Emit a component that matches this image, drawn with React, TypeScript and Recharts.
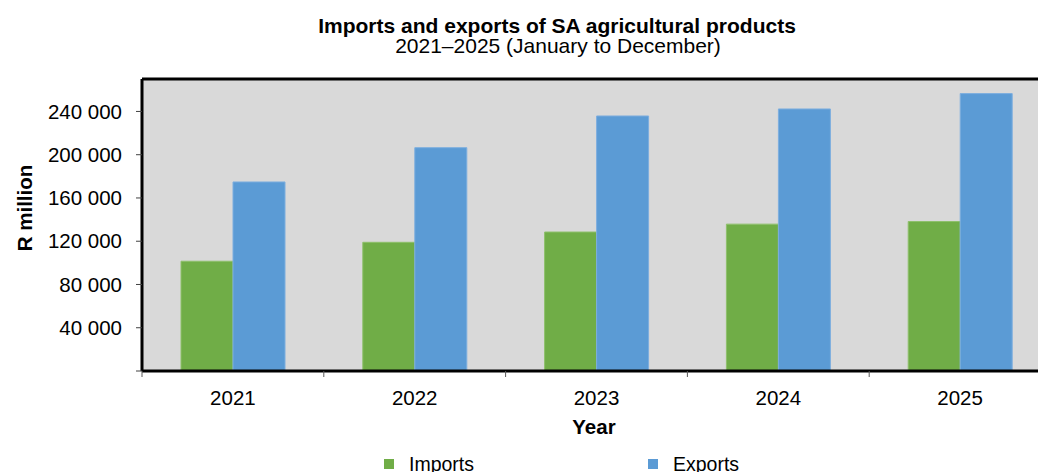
import { BarChart, Bar, XAxis, YAxis, CartesianGrid, Legend, ReferenceLine, Label } from "recharts";

const years = ["2021", "2022", "2023", "2024", "2025"];
const seriesNames = ["Imports", "Exports"];
const imports = [101500, 119000, 128500, 135800, 138200];
const exports = [174800, 206500, 235800, 242300, 256500];
const yTicks = [0, 40000, 80000, 120000, 160000, 200000, 240000];
const boundaryTicks = [0, 1, 2, 3, 4, 5];

const data = years.map((year, i) => ({ year, idx: i + 0.5, imports: imports[i], exports: exports[i] }));

const FONT = "'Liberation Sans', Arial, sans-serif";

const fmt = (v: number) => (v === 0 ? "" : String(v).replace(/\B(?=(\d{3})+(?!\d))/g, " "));

const LegendContent = ({ payload }: any) => {
  const items = [...(payload || [])].sort((a: any, b: any) => seriesNames.indexOf(a.value) - seriesNames.indexOf(b.value));
  return (
    <div style={{ position: "relative", height: 20, fontFamily: FONT, fontSize: 19.5, lineHeight: "20px", color: "#000" }}>
      {items.map((entry: any, i: number) => (
        <div key={entry.value} style={{ position: "absolute", left: 384 + i * 264, top: 0, display: "flex", alignItems: "center", whiteSpace: "nowrap" }}>
          <span style={{ display: "inline-block", width: 10, height: 10, background: entry.color, marginRight: 15 }} />
          <span>{entry.value}</span>
        </div>
      ))}
    </div>
  );
};

export default function App() {
  return (
    <div style={{ position: "fixed", left: 0, top: 0, width: 1038, height: 472, overflow: "hidden", background: "#fff" }}>
      <BarChart
        width={1060}
        height={472}
        data={data}
        margin={{ top: 79, right: 9, bottom: 0, left: 0 }}
        barCategoryGap={39}
        barGap={0}
        style={{ fontFamily: FONT }}
      >
        <CartesianGrid xAxisId="cat" fill="#d9d9d9" horizontal={false} vertical={false} stroke="none" />
        <XAxis
          type="number"
          dataKey="idx"
          domain={[0, 5]}
          ticks={boundaryTicks}
          tickFormatter={() => ""}
          axisLine={{ stroke: "#000", strokeWidth: 3 }}
          tickSize={6}
          tickLine={{ stroke: "#595959", strokeWidth: 1 }}
          height={1}
          allowDataOverflow
        />
        <XAxis
          xAxisId="cat"
          dataKey="year"
          axisLine={false}
          tickLine={false}
          tickSize={0}
          tickMargin={18}
          tick={{ fill: "#000", fontSize: 20.5, fontFamily: FONT }}
          height={100}
        />
        <YAxis
          domain={[0, 270000]}
          ticks={yTicks}
          tickFormatter={fmt}
          width={142}
          axisLine={{ stroke: "#000", strokeWidth: 3 }}
          tickLine={{ stroke: "#404040", strokeWidth: 1 }}
          tickSize={6}
          tickMargin={14}
          tick={{ fill: "#000", fontSize: 20.5, fontFamily: FONT }}
          allowDataOverflow
        >
          <Label
            content={() => (
              <text
                x={31.5}
                y={208}
                transform="rotate(-90, 31.5, 208)"
                textAnchor="middle"
                fontFamily={FONT}
                fontSize={20.5}
                fontWeight="bold"
                fill="#000"
              >
                R million
              </text>
            )}
          />
        </YAxis>
        <ReferenceLine xAxisId="cat" y={270000} stroke="#000" strokeWidth={3} ifOverflow="visible" />
        <Legend verticalAlign="middle" layout="horizontal" content={LegendContent} wrapperStyle={{ top: 453.5, left: 0, width: 1038 }} />
        <Bar xAxisId="cat" dataKey="imports" name="Imports" fill="#70ad47" stroke="#8ec06b" strokeWidth={1} isAnimationActive={false} />
        <Bar xAxisId="cat" dataKey="exports" name="Exports" fill="#5b9bd5" stroke="#7daedf" strokeWidth={1} isAnimationActive={false} />
      </BarChart>
      <svg width={1038} height={472} style={{ position: "absolute", left: 0, top: 0, pointerEvents: "none" }}>
        <text x={557} y={32.5} textAnchor="middle" fontFamily={FONT} fontSize={21} fontWeight="bold" fill="#000">
          Imports and exports of SA agricultural products
        </text>
        <text x={558} y={52.5} textAnchor="middle" fontFamily={FONT} fontSize={21} fill="#000">
          2021–2025 (January to December)
        </text>
        <text x={594} y={433.5} textAnchor="middle" fontFamily={FONT} fontSize={20.5} fontWeight="bold" fill="#000">
          Year
        </text>
      </svg>
    </div>
  );
}
